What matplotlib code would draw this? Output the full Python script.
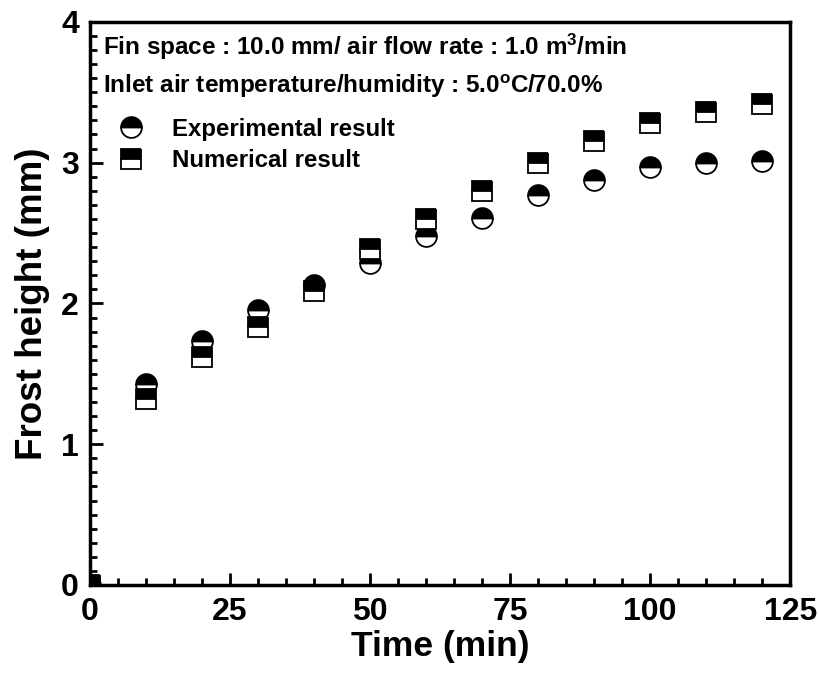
import matplotlib.pyplot as plt
from matplotlib.ticker import MultipleLocator
from matplotlib.lines import Line2D

plt.rcParams['font.family'] = ['Liberation Sans', 'DejaVu Sans']
plt.rcParams['font.weight'] = 'bold'
plt.rcParams['mathtext.fontset'] = 'custom'
plt.rcParams['mathtext.rm'] = 'Liberation Sans:bold'
plt.rcParams['mathtext.bf'] = 'Liberation Sans:bold'
plt.rcParams['mathtext.default'] = 'bf'

time = [0, 10, 20, 30, 40, 50, 60, 70, 80, 90, 100, 110, 120]
experimental = [0, 1.43, 1.73, 1.95, 2.13, 2.29, 2.48, 2.61, 2.77, 2.88, 2.97, 3.00, 3.01]
numerical = [0, 1.32, 1.62, 1.83, 2.09, 2.39, 2.60, 2.80, 3.00, 3.155, 3.28, 3.36, 3.42]

fig = plt.figure(figsize=(8.18, 6.83), dpi=100)
ax = fig.add_axes([0.110, 0.1435, 0.856, 0.8245])

ax.plot(time, experimental, linestyle='none', marker='o', markersize=15,
        fillstyle='top', markerfacecolor='black', markerfacecoloralt='white',
        markeredgecolor='black', markeredgewidth=1.3)
ax.plot(time, numerical, linestyle='none', marker='s', markersize=14,
        fillstyle='top', markerfacecolor='black', markerfacecoloralt='white',
        markeredgecolor='black', markeredgewidth=1.3)

ax.set_xlim(0, 125)
ax.set_ylim(0, 4)
ax.xaxis.set_major_locator(MultipleLocator(25))
ax.xaxis.set_minor_locator(MultipleLocator(5))
ax.yaxis.set_major_locator(MultipleLocator(1))
ax.yaxis.set_minor_locator(MultipleLocator(0.1))
ax.tick_params(which='both', direction='in', width=2, labelsize=23)
ax.tick_params(which='major', length=9)
ax.tick_params(axis='x', which='major', pad=9)
ax.tick_params(axis='y', which='major', pad=8)
ax.tick_params(which='minor', length=5)
for lab in ax.get_xticklabels() + ax.get_yticklabels():
    lab.set_fontweight('bold')
for s in ax.spines.values():
    s.set_linewidth(2.5)

ax.set_xlabel('Time (min)', fontsize=25.5, fontweight='bold', labelpad=2)
ax.set_ylabel('Frost height (mm)', fontsize=26.5, fontweight='bold', labelpad=8)

ax.text(0.018, 0.955, r'Fin space : 10.0 mm/ air flow rate : 1.0 m$^3$/min',
        transform=ax.transAxes, fontsize=17.5, fontweight='bold', va='center')
ax.text(0.018, 0.885, r'Inlet air temperature/humidity : 5.0$^o$C/70.0%',
        transform=ax.transAxes, fontsize=17.5, fontweight='bold', va='center')

handles = [
    Line2D([], [], linestyle='none', marker='o', markersize=15, fillstyle='top',
           markerfacecolor='black', markerfacecoloralt='white',
           markeredgecolor='black', markeredgewidth=1.3),
    Line2D([], [], linestyle='none', marker='s', markersize=14, fillstyle='top',
           markerfacecolor='black', markerfacecoloralt='white',
           markeredgecolor='black', markeredgewidth=1.3),
]
ax.legend(handles, ['Experimental result', 'Numerical result'], loc='upper left',
          bbox_to_anchor=(0.0, 0.86), frameon=False, prop={'size': 17.3, 'weight': 'bold'},
          handletextpad=0.7, labelspacing=0.35, borderaxespad=0.3)

fig.savefig('out.png', dpi=100)
